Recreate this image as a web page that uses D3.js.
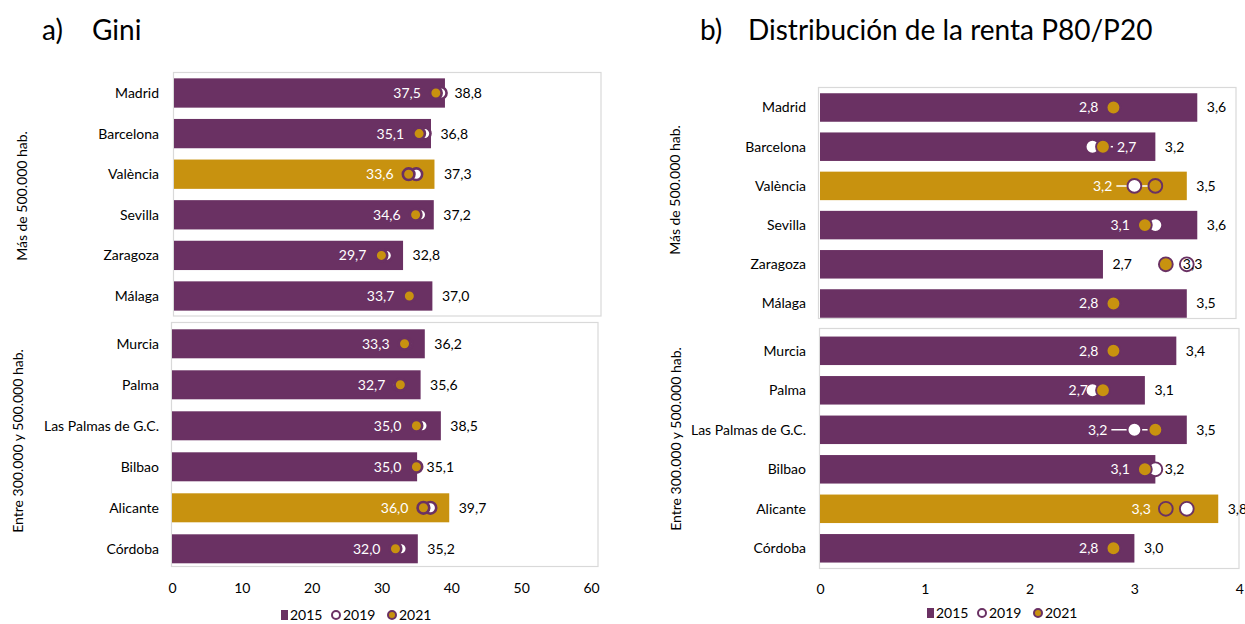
<!DOCTYPE html>
<html>
<head>
<meta charset="utf-8">
<script src="https://cdn.jsdelivr.net/npm/d3@7"></script>
<style>
  html, body { margin: 0; padding: 0; background: #fff; }
  svg { display: block; font-family: Lato, "Open Sans", sans-serif; }
</style>
</head>
<body>
<svg id="chart" width="1245" height="624"></svg>
<script>
// ---------- DATA ----------
const catsLarge = ["Madrid", "Barcelona", "València", "Sevilla", "Zaragoza", "Málaga"];
const catsMedium = ["Murcia", "Palma", "Las Palmas de G.C.", "Bilbao", "Alicante", "Córdoba"];
const highlighted = ["València", "Alicante"];
const seriesNames = ["2015", "2019", "2021"];

// Gini (order: catsLarge then catsMedium)
const gini2015 = [38.8, 36.8, 37.3, 37.2, 32.8, 37.0, 36.2, 35.6, 38.5, 35.1, 39.7, 35.2];
const gini2019 = [38.2, 35.9, 34.7, 35.3, 30.4, null, 33.6, 32.4, 35.8, null, 37.0, 32.8];
const gini2021 = [37.5, 35.1, 33.6, 34.6, 29.7, 33.7, 33.3, 32.7, 35.0, 35.0, 36.0, 32.0];
const giniTicks = [0, 10, 20, 30, 40, 50, 60];

// P80/P20
const p8020_2015 = [3.6, 3.2, 3.5, 3.6, 2.7, 3.5, 3.4, 3.1, 3.5, 3.2, 3.8, 3.0];
const p8020_2019 = [null, 2.6, 3.0, 3.2, 3.5, null, null, 2.6, 3.0, 3.2, 3.5, null];
const p8020_2021 = [2.8, 2.7, 3.2, 3.1, 3.3, 2.8, 2.8, 2.7, 3.2, 3.1, 3.3, 2.8];
const p8020Ticks = [0, 1, 2, 3, 4];

const groupLabels = ["Más de 500.000 hab.", "Entre 300.000 y 500.000 hab."];

// ---------- STYLE / LAYOUT ----------
const PURPLE = "#6A3163";
const GOLD = "#C8920F";
const BOX = "#D9D9D9";
const fmt = v => d3.format(".1f")(v).replace(".", ",");

const svg = d3.select("#chart");

// label placement tweaks for the 2021 labels in panel b (px)
const p8020LabelPlacement = {
  "Barcelona": { side: "right", gap: 14, leader: true },
  "València": { side: "left", gap: 43, leader: true },
  "Las Palmas de G.C.": { side: "left", gap: 48, leader: true },
  "Zaragoza": { side: "right", gap: 17, leader: false }
};

function drawSub(cfg) {
  const g = svg.append("g");
  // box
  g.append("rect")
    .attr("x", cfg.box[0]).attr("y", cfg.box[1])
    .attr("width", cfg.box[2]).attr("height", cfg.box[3])
    .attr("fill", "none").attr("stroke", BOX).attr("stroke-width", 1.2);

  const x = d3.scaleLinear().domain(cfg.domain).range(cfg.xRange);
  const pad = 1 - cfg.bh / cfg.step;
  const y = d3.scaleBand().domain(cfg.cats)
    .range([cfg.yFirst - cfg.step / 2, cfg.yFirst + (cfg.cats.length - 0.5) * cfg.step])
    .paddingInner(pad).paddingOuter(pad / 2);
  const cy = c => y(c) + y.bandwidth() / 2;

  const rows = cfg.cats.map((c, i) => ({
    c, v15: cfg.v15[i], v19: cfg.v19[i], v21: cfg.v21[i]
  }));

  // category labels
  g.selectAll(".cat").data(rows).join("text")
    .attr("x", cfg.catX).attr("y", d => cy(d.c)).attr("dy", "0.35em")
    .attr("text-anchor", "end").attr("font-size", 14).attr("fill", "#000")
    .text(d => d.c);

  // bars (2015)
  g.selectAll(".bar").data(rows).join("rect")
    .attr("x", x(0)).attr("y", d => y(d.c))
    .attr("width", d => x(d.v15) - x(0)).attr("height", y.bandwidth())
    .attr("fill", d => highlighted.includes(d.c) ? GOLD : PURPLE);

  // 2015 value labels
  g.selectAll(".v15").data(rows).join("text")
    .attr("x", d => x(d.v15) + 9.5).attr("y", d => cy(d.c)).attr("dy", "0.35em")
    .attr("font-size", 14).attr("fill", "#000")
    .text(d => fmt(d.v15));

  // 2021 label positions
  const labInfo = rows.map(d => {
    const p = (cfg.place && cfg.place[d.c]) || { side: "left", gap: cfg.defGap, leader: false };
    const mx = x(d.v21);
    const lx = p.side === "left" ? mx - p.gap : mx + p.gap;
    const inside = p.side === "left" ? lx < x(d.v15) : lx + 10 < x(d.v15);
    return { d, p, mx, lx, inside };
  });

  // leader lines
  g.selectAll(".leader").data(labInfo.filter(l => l.p.leader)).join("line")
    .attr("x1", l => l.p.side === "left" ? l.lx + 4 : l.lx - 4)
    .attr("x2", l => l.mx)
    .attr("y1", l => cy(l.d.c)).attr("y2", l => cy(l.d.c))
    .attr("stroke", "#fff").attr("stroke-width", 1.5);

  // 2019 markers
  g.selectAll(".m19").data(rows.filter(d => d.v19 != null)).join("circle")
    .attr("cx", d => x(d.v19)).attr("cy", d => cy(d.c)).attr("r", cfg.r)
    .attr("fill", "#fff").attr("stroke", PURPLE).attr("stroke-width", cfg.sw);

  // 2021 markers
  g.selectAll(".m21").data(rows).join("circle")
    .attr("cx", d => x(d.v21)).attr("cy", d => cy(d.c)).attr("r", cfg.r)
    .attr("fill", GOLD).attr("stroke", PURPLE).attr("stroke-width", cfg.sw);

  // 2021 labels
  g.selectAll(".v21").data(labInfo).join("text")
    .attr("x", l => l.lx).attr("y", l => cy(l.d.c)).attr("dy", "0.35em")
    .attr("text-anchor", l => l.p.side === "left" ? "end" : "start")
    .attr("font-size", 14).attr("fill", l => l.inside ? "#fff" : "#000")
    .text(l => fmt(l.d.v21));

  // rotated group label
  g.append("text")
    .attr("transform", `translate(${cfg.groupX},${cfg.groupY}) rotate(-90)`)
    .attr("text-anchor", "middle").attr("dy", "0.35em")
    .attr("font-size", 14).attr("fill", "#000")
    .text(cfg.group);

  return x;
}

function drawAxis(x, ticks, yPos) {
  const ax = svg.append("g").attr("transform", `translate(0,${yPos})`)
    .call(d3.axisBottom(x).tickValues(ticks).tickSize(0).tickPadding(0)
      .tickFormat(d => String(d)));
  ax.select(".domain").remove();
  ax.selectAll("text").attr("y", 0).attr("dy", "0.35em")
    .attr("font-size", 14).attr("fill", "#000")
    .attr("font-family", "Lato, 'Open Sans', sans-serif");
}

function drawLegend(x0, yc) {
  const g = svg.append("g").attr("font-size", 14);
  let cx = x0;
  // 2015 square
  g.append("rect").attr("x", cx).attr("y", yc - 5).attr("width", 7).attr("height", 10).attr("fill", PURPLE);
  g.append("text").attr("x", cx + 9).attr("y", yc).attr("dy", "0.35em").text(seriesNames[0]);
  cx += 55;
  g.append("circle").attr("cx", cx).attr("cy", yc).attr("r", 4).attr("fill", "#fff").attr("stroke", PURPLE).attr("stroke-width", 2);
  g.append("text").attr("x", cx + 7).attr("y", yc).attr("dy", "0.35em").text(seriesNames[1]);
  cx += 56;
  g.append("circle").attr("cx", cx).attr("cy", yc).attr("r", 4).attr("fill", GOLD).attr("stroke", PURPLE).attr("stroke-width", 2);
  g.append("text").attr("x", cx + 7).attr("y", yc).attr("dy", "0.35em").text(seriesNames[2]);
}

const n1 = catsLarge.length;
const sl = (arr, a, b) => arr.slice(a, b);

// ---------- PANEL A: Gini ----------
const giniMarker = { r: 5.8, sw: 2.6, defGap: 15 };
drawSub(Object.assign({
  cats: catsLarge, v15: sl(gini2015, 0, n1), v19: sl(gini2019, 0, n1), v21: sl(gini2021, 0, n1),
  domain: [0, 60], xRange: [174, 593], box: [173.5, 72.5, 427.5, 243.5],
  yFirst: 93, step: 40.6, bh: 29.3, catX: 159, group: groupLabels[0], groupX: 22, groupY: 196
}, giniMarker));
const xG = drawSub(Object.assign({
  cats: catsMedium, v15: sl(gini2015, n1), v19: sl(gini2019, n1), v21: sl(gini2021, n1),
  domain: [0, 60], xRange: [172, 591], box: [171.5, 322.5, 426.5, 244],
  yFirst: 343.8, step: 41, bh: 29, catX: 159, group: groupLabels[1], groupX: 18, groupY: 441
}, giniMarker));
drawAxis(xG, giniTicks, 588);
drawLegend(281, 615);

// ---------- PANEL B: P80/P20 ----------
const pMarker = { r: 6.9, sw: 1.9, defGap: 15 };
drawSub(Object.assign({
  cats: catsLarge, v15: sl(p8020_2015, 0, n1), v19: sl(p8020_2019, 0, n1), v21: sl(p8020_2021, 0, n1),
  domain: [0, 4], xRange: [820, 1239.2], box: [818.5, 87.5, 417.5, 231],
  yFirst: 107.5, step: 39.2, bh: 28.5, catX: 806, group: groupLabels[0], groupX: 675, groupY: 190,
  place: p8020LabelPlacement
}, pMarker));
const xP = drawSub(Object.assign({
  cats: catsMedium, v15: sl(p8020_2015, n1), v19: sl(p8020_2019, n1), v21: sl(p8020_2021, n1),
  domain: [0, 4], xRange: [820, 1239.2], box: [819.5, 328.5, 419.5, 240],
  yFirst: 350.8, step: 39.5, bh: 28.5, catX: 806, group: groupLabels[1], groupX: 676, groupY: 439,
  place: p8020LabelPlacement
}, pMarker));
drawAxis(xP, p8020Ticks, 589);
drawLegend(927, 613);

// ---------- TITLES ----------
const titles = [
  { x: 42, label: "a)", x2: 92, text: "Gini" },
  { x: 700, label: "b)", x2: 748, text: "Distribución de la renta P80/P20" }
];
titles.forEach(t => {
  svg.append("text").attr("x", t.x).attr("y", 40).attr("font-size", 28).attr("fill", "#000").text(t.label);
  svg.append("text").attr("x", t.x2).attr("y", 40).attr("font-size", 28).attr("fill", "#000").text(t.text);
});
</script>
</body>
</html>
